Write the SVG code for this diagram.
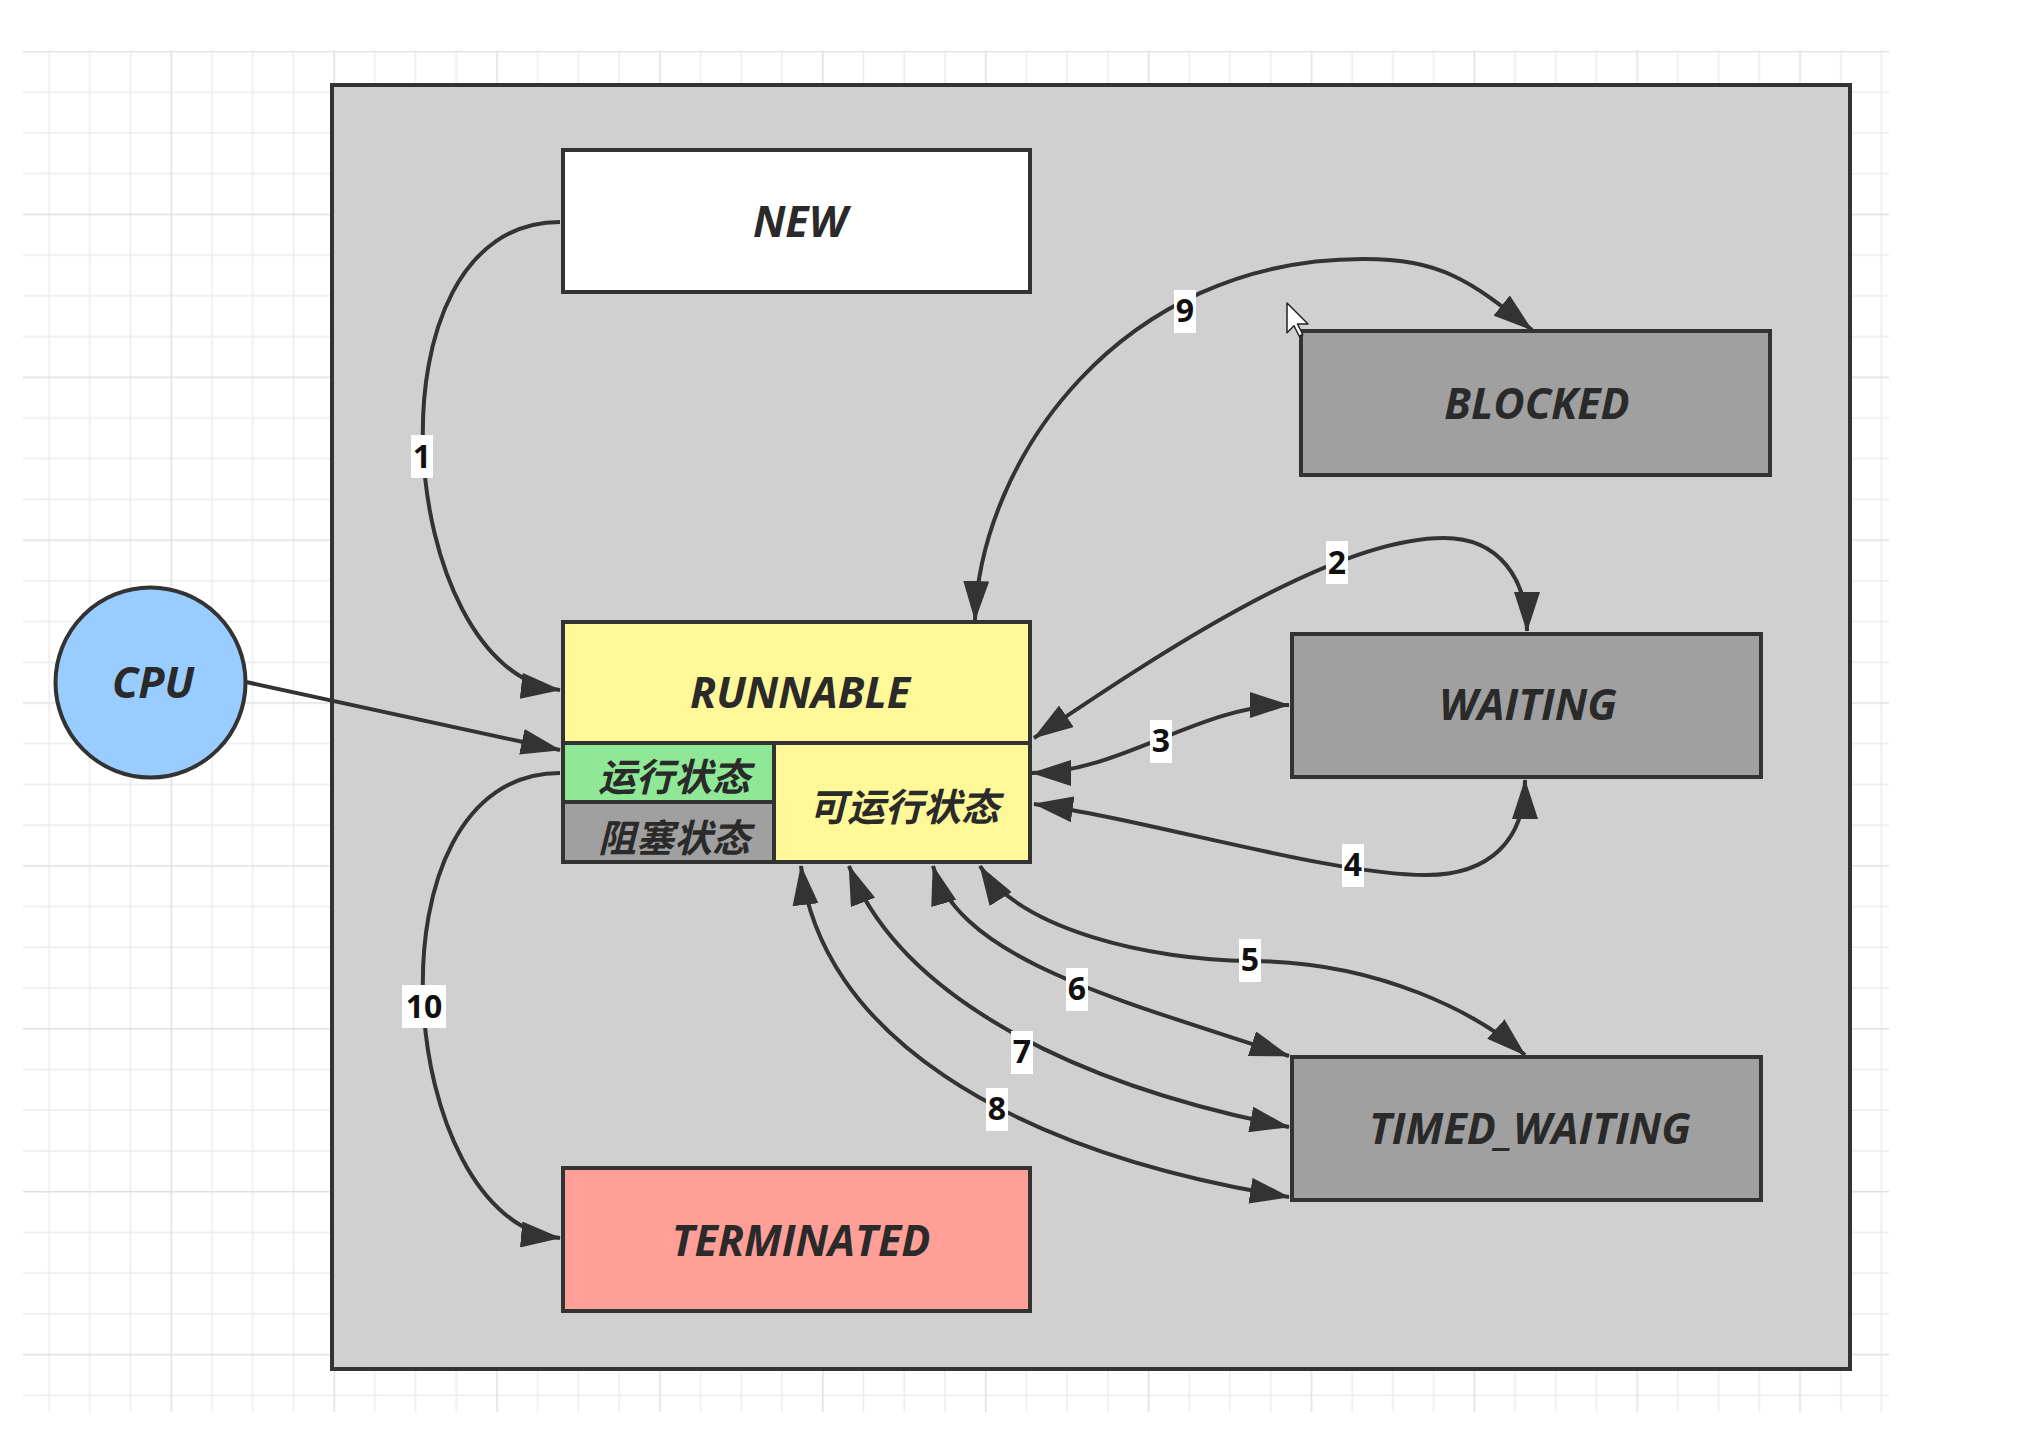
<svg xmlns="http://www.w3.org/2000/svg" width="2039" height="1429" viewBox="0 0 2039 1429">
<defs>
<pattern id="grid" x="7.65" y="50.75" width="162.88" height="162.88" patternUnits="userSpaceOnUse">
<rect x="40.72" y="0" width="1.5" height="162.88" fill="#ececec"/>
<rect x="81.44" y="0" width="1.5" height="162.88" fill="#ececec"/>
<rect x="122.16" y="0" width="1.5" height="162.88" fill="#ececec"/>
<rect x="0" y="40.72" width="162.88" height="1.5" fill="#ececec"/>
<rect x="0" y="81.44" width="162.88" height="1.5" fill="#ececec"/>
<rect x="0" y="122.16" width="162.88" height="1.5" fill="#ececec"/>
<rect x="0" y="0" width="1.5" height="162.88" fill="#e0e0e0"/>
<rect x="0" y="0" width="162.88" height="1.5" fill="#e0e0e0"/>
</pattern>
<marker id="arr" markerUnits="userSpaceOnUse" markerWidth="40" markerHeight="26" viewBox="0 0 40 26" refX="39" refY="13" orient="auto-start-reverse">
<path d="M0,0 L40,13 L0,26 Z" fill="#333"/>
</marker>
</defs>
<style>
.box{stroke:#333;stroke-width:4}
.t{font-family:'Open Sans','Noto Sans CJK SC',sans-serif;font-weight:700;font-style:italic;font-size:43px;fill:#2a2a2a;text-anchor:middle}
.c{font-family:'Noto Sans CJK SC','Open Sans',sans-serif;font-weight:700;font-style:italic;font-size:38px;fill:#2a2a2a;text-anchor:middle}
.e{fill:none;stroke:#333;stroke-width:4}
.lb{fill:#ffffff}
.ln{font-family:'Open Sans','Liberation Sans',sans-serif;font-weight:700;font-size:32px;fill:#111;text-anchor:middle}
</style>
<rect width="2039" height="1429" fill="#ffffff"/>
<rect x="23" y="51" width="1866" height="1361" fill="url(#grid)"/>

<g id="container">
<rect x="332" y="85" width="1518" height="1284" fill="#d0d0d0" class="box"/>
</g>

<g id="node-new">
<rect x="563" y="150" width="467" height="142" fill="#ffffff" class="box"/>
<text x="800" y="237" class="t">NEW</text>
</g>

<g id="node-blocked">
<rect x="1301" y="331" width="469" height="144" fill="#a0a0a0" class="box"/>
<text x="1537" y="419" class="t">BLOCKED</text>
</g>

<g id="node-waiting">
<rect x="1292" y="634" width="469" height="143" fill="#a0a0a0" class="box"/>
<text x="1528" y="720" class="t">WAITING</text>
</g>

<g id="node-timed-waiting">
<rect x="1292" y="1057" width="469" height="143" fill="#a0a0a0" class="box"/>
<text x="1530" y="1144" class="t">TIMED_WAITING</text>
</g>

<g id="node-terminated">
<rect x="563" y="1168" width="467" height="143" fill="#ff9f97" class="box"/>
<text x="801" y="1256" class="t">TERMINATED</text>
</g>

<g id="node-cpu">
<circle cx="150.5" cy="682.5" r="95" fill="#99ccff" class="box"/>
<text x="153" y="698" class="t">CPU</text>
</g>

<g id="node-runnable">
<rect x="563" y="622" width="467" height="121" fill="#fff899"/>
<rect x="563" y="743" width="211" height="59" fill="#8fe895"/>
<rect x="563" y="802" width="211" height="60" fill="#a0a0a0"/>
<rect x="774" y="743" width="256" height="119" fill="#fff899"/>
<rect x="563" y="622" width="467" height="240" fill="none" class="box"/>
<path d="M563,743 H1030 M774,743 V862 M563,802 H774" fill="none" class="box"/>
<text x="800" y="708" class="t">RUNNABLE</text>
<text x="674" y="791" class="c">运行状态</text>
<text x="674" y="852" class="c">阻塞状态</text>
<text x="904" y="821" class="c">可运行状态</text>
</g>

<g id="connectors">
<path class="e" d="M560,222 C360,222 395,672 560,690" marker-end="url(#arr)"/>
<path class="e" d="M560,773 C360,773 395,1223 560,1238" marker-end="url(#arr)"/>
<path class="e" d="M246,682 L560,750" marker-end="url(#arr)"/>
<path class="e" d="M975,620 C980,460 1120,259 1363,259 C1440,259 1470,280 1532,330" marker-start="url(#arr)" marker-end="url(#arr)"/>
<path class="e" d="M1034,738 C1150,660 1330,538 1444,538 C1500,538 1527,580 1527,631" marker-start="url(#arr)" marker-end="url(#arr)"/>
<path class="e" d="M1032,773 C1120,773 1200,705 1289,705" marker-start="url(#arr)" marker-end="url(#arr)"/>
<path class="e" d="M1034,804 C1150,820 1330,875 1426,875 C1490,875 1525,840 1525,780" marker-start="url(#arr)" marker-end="url(#arr)"/>
<path class="e" d="M980,866 C1020,930 1150,960 1250,961 C1380,961 1480,1015 1525,1055" marker-start="url(#arr)" marker-end="url(#arr)"/>
<path class="e" d="M933,866 C960,960 1120,1000 1289,1056" marker-start="url(#arr)" marker-end="url(#arr)"/>
<path class="e" d="M849,866 C895,985 1050,1080 1289,1127" marker-start="url(#arr)" marker-end="url(#arr)"/>
<path class="e" d="M801,866 C820,1030 1000,1150 1289,1197" marker-start="url(#arr)" marker-end="url(#arr)"/>
</g>

<g id="labels">
<rect class="lb" x="411" y="435" width="22" height="43"/><text class="ln" x="422" y="468">1</text>
<rect class="lb" x="1326" y="541" width="22" height="43"/><text class="ln" x="1337" y="574">2</text>
<rect class="lb" x="1150" y="720" width="22" height="43"/><text class="ln" x="1161" y="752">3</text>
<rect class="lb" x="1342" y="844" width="22" height="43"/><text class="ln" x="1353" y="876">4</text>
<rect class="lb" x="1239" y="939" width="22" height="43"/><text class="ln" x="1250" y="971">5</text>
<rect class="lb" x="1066" y="968" width="22" height="43"/><text class="ln" x="1077" y="1000">6</text>
<rect class="lb" x="1011" y="1031" width="22" height="43"/><text class="ln" x="1022" y="1063">7</text>
<rect class="lb" x="986" y="1088" width="22" height="43"/><text class="ln" x="997" y="1120">8</text>
<rect class="lb" x="1174" y="290" width="22" height="43"/><text class="ln" x="1185" y="322">9</text>
<rect class="lb" x="402" y="985" width="44" height="43"/><text class="ln" x="424" y="1018">10</text>
</g>

<g id="cursor">
<path d="M1287,303 L1287,332.75 L1294,325.75 L1299.25,336.25 L1302.75,334.5 L1297.5,324 L1308,324 Z" fill="#ffffff" stroke="#222" stroke-width="1.5" stroke-linejoin="round"/>
</g>
</svg>
